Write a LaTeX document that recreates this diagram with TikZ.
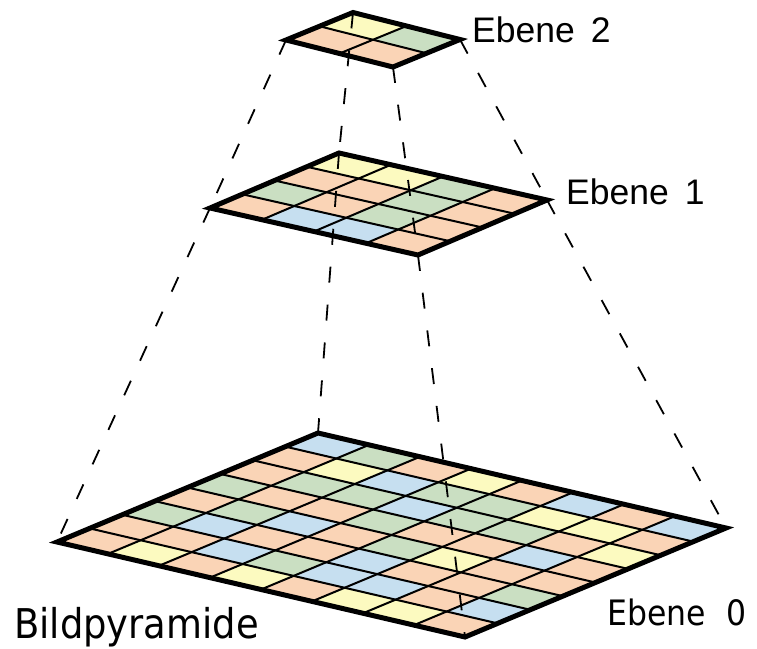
\documentclass[tikz,border=0pt]{standalone}
\usepackage{fontspec}
\newfontfamily\arialfont{Liberation Sans}
\newfontfamily\tahomafont[FakeStretch=0.9]{DejaVu Sans}
\usepackage{xcolor}
\usepackage{tikz}

\definecolor{pyrO}{RGB}{250,212,182}
\definecolor{pyrG}{RGB}{202,223,194}
\definecolor{pyrB}{RGB}{198,223,240}
\definecolor{pyrY}{RGB}{252,250,192}

\begin{document}
\begin{tikzpicture}[
    x=1pt, y=-1pt,
    plane/.style={line width=5pt, line join=miter},
    gridline/.style={line width=2pt},
    link/.style={line width=1.8pt, dash pattern=on 16pt off 22pt},
    ebene/.style={font=\arialfont\fontsize{35.5}{42}\selectfont, anchor=base west, inner sep=0pt},
    caption/.style={font=\tahomafont\fontsize{41}{48}\selectfont, anchor=base west, inner sep=0pt}
]
\useasboundingbox[fill=white] (0,0) rectangle (757,648);

% Ebene 0 (8x8)
\begin{scope}[shift={(57,542)}, x={(32.625pt,13.625pt)}, y={(51pt,-11.875pt)}]
    \foreach \row [count=\j from 0] in {{O,O,G,O,G,O,O,B},{Y,O,B,G,O,G,Y,G},{O,B,O,B,O,G,B,O},{Y,G,O,O,G,B,G,Y},{O,B,B,G,O,G,G,O},{Y,B,O,Y,O,G,Y,B},{Y,O,O,O,B,O,Y,O},{O,B,G,O,O,Y,O,B}}
        \foreach \c [count=\i from 0] in \row
            \fill[fill=pyr\c] (\i,\j) -- ++(1,0) -- ++(0,1) -- ++(-1,0) -- cycle;
    \foreach \k in {1,...,7} {
        \draw[gridline] (\k,0) -- (\k,8);
        \draw[gridline] (0,\k) -- (8,\k);
    }
    \draw[plane] (0,0) coordinate (L0) -- (8,0) coordinate (T0) -- (8,8) coordinate (R0) -- (0,8) coordinate (B0) -- cycle;
\end{scope}

% Ebene 1 (4x4)
\begin{scope}[shift={(210,208)}, x={(32.25pt,13.75pt)}, y={(52pt,-11.75pt)}]
    \foreach \row [count=\j from 0] in {{O,G,O,Y},{B,O,O,Y},{B,G,G,G},{O,O,O,O}}
        \foreach \c [count=\i from 0] in \row
            \fill[fill=pyr\c] (\i,\j) -- ++(1,0) -- ++(0,1) -- ++(-1,0) -- cycle;
    \foreach \k in {1,...,3} {
        \draw[gridline] (\k,0) -- (\k,4);
        \draw[gridline] (0,\k) -- (4,\k);
    }
    \draw[plane] (0,0) coordinate (L1) -- (4,0) coordinate (T1) -- (4,4) coordinate (R1) -- (0,4) coordinate (B1) -- cycle;
\end{scope}

% Ebene 2 (2x2)
\begin{scope}[shift={(286,40)}, x={(33.5pt,13.75pt)}, y={(53.5pt,-13.5pt)}]
    \foreach \row [count=\j from 0] in {{O,Y},{O,G}}
        \foreach \c [count=\i from 0] in \row
            \fill[fill=pyr\c] (\i,\j) -- ++(1,0) -- ++(0,1) -- ++(-1,0) -- cycle;
    \draw[gridline] (1,0) -- (1,2);
    \draw[gridline] (0,1) -- (2,1);
    \draw[plane] (0,0) coordinate (L2) -- (2,0) coordinate (T2) -- (2,2) coordinate (R2) -- (0,2) coordinate (B2) -- cycle;
\end{scope}

% dashed links between the levels
\draw[link] (L2) -- (L1);
\draw[link] (T2) -- (T1);
\draw[link] (R2) -- (R1);
\draw[link] (B2) -- (B1);
\draw[link] (L1) -- (L0);
\draw[link] (T1) -- (T0);
\draw[link] (R1) -- (R0);
\draw[link] (B1) -- (B0);

% labels
\node[ebene] (e2) at (472,42) {Ebene\hspace{0.45em}2};
\node[ebene] (e1) at (566,204) {Ebene\hspace{0.45em}1};
\node[caption, font=\tahomafont\fontsize{35}{40}\selectfont] (e0) at (607,625) {Ebene\hspace{0.6em}0};
\node[caption] (bild) at (14,638) {Bildpyramide};

\end{tikzpicture}
\end{document}
